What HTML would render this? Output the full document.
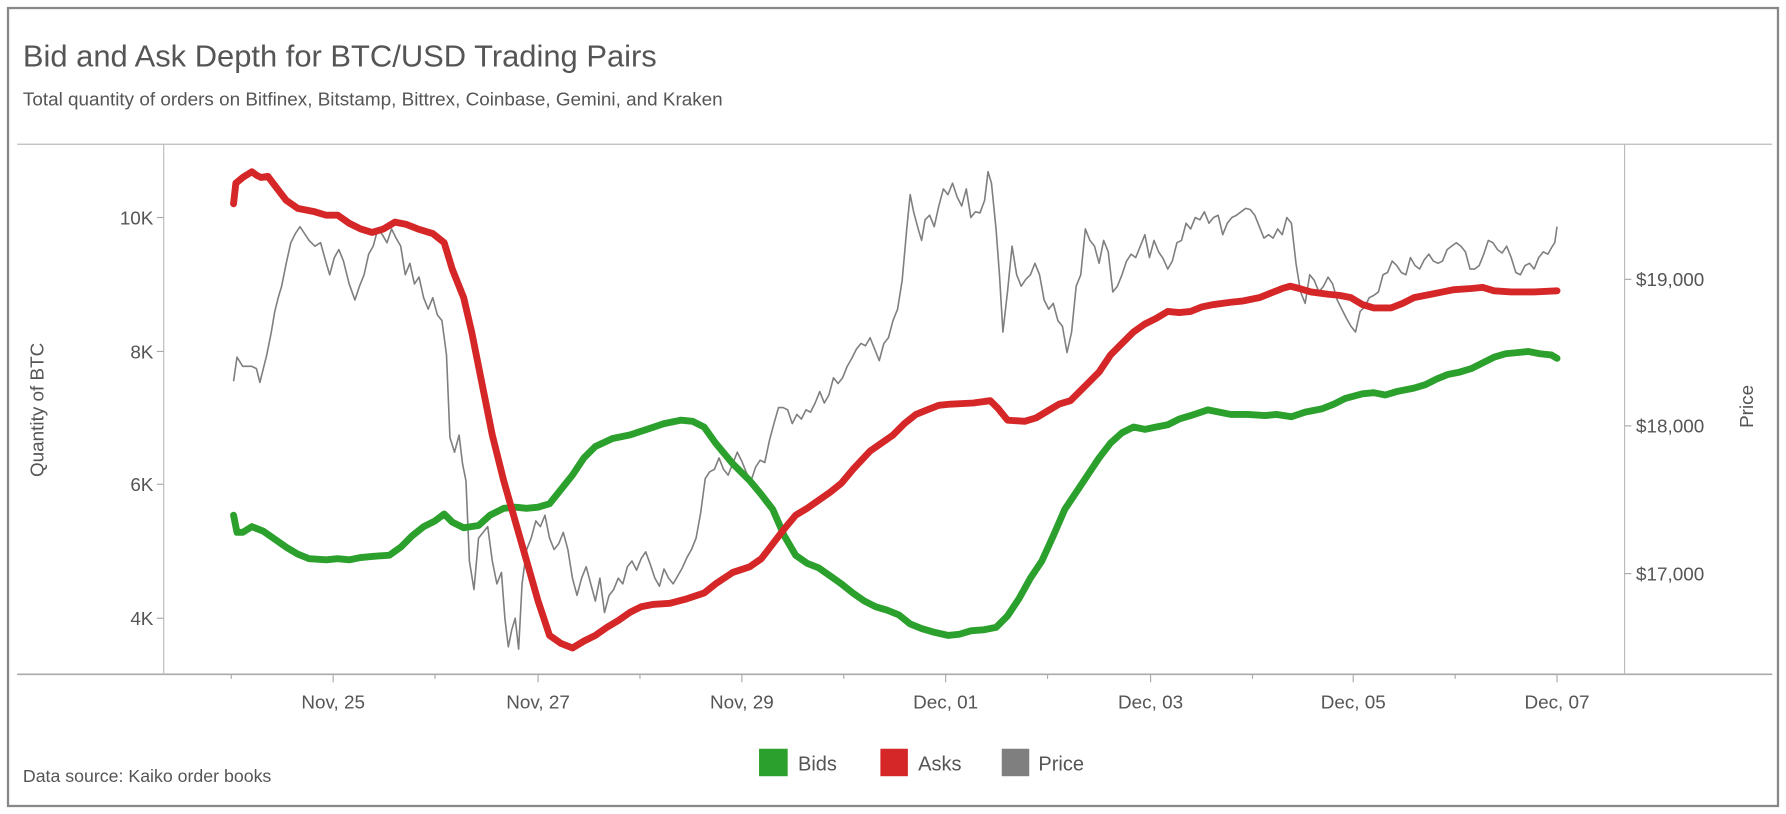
<!DOCTYPE html>
<html><head><meta charset="utf-8"><style>
html,body{margin:0;padding:0;background:#fff;}
svg{display:block;}
text{font-family:"Liberation Sans",sans-serif;fill:#555;}
</style></head><body>
<svg width="1786" height="814" viewBox="0 0 1560 711" preserveAspectRatio="none" xmlns="http://www.w3.org/2000/svg">
<rect x="0" y="0" width="1560" height="711" fill="#fff"/>
<rect x="7" y="7" width="1546" height="697" fill="none" stroke="#888" stroke-width="2"/>
<text x="20" y="58" font-size="27" fill="#555">Bid and Ask Depth for BTC/USD Trading Pairs</text>
<text x="20" y="92" font-size="16.5" fill="#444">Total quantity of orders on Bitfinex, Bitstamp, Bittrex, Coinbase, Gemini, and Kraken</text>
<line x1="15" y1="126" x2="1548" y2="126" stroke="#bbb" stroke-width="1"/>
<line x1="15" y1="589" x2="1548" y2="589" stroke="#aaa" stroke-width="1.5"/>
<line x1="143" y1="126" x2="143" y2="589" stroke="#bbb" stroke-width="1"/>
<line x1="1419" y1="126" x2="1419" y2="589" stroke="#bbb" stroke-width="1"/>
<g stroke="#aaa" stroke-width="1">
<line x1="137" y1="190" x2="143" y2="190"/><line x1="137" y1="307" x2="143" y2="307"/><line x1="137" y1="423" x2="143" y2="423"/><line x1="137" y1="540" x2="143" y2="540"/>
<line x1="1419" y1="244" x2="1425" y2="244"/><line x1="1419" y1="372" x2="1425" y2="372"/><line x1="1419" y1="501" x2="1425" y2="501"/>
<line x1="291" y1="589" x2="291" y2="596"/><line x1="470" y1="589" x2="470" y2="596"/><line x1="648" y1="589" x2="648" y2="596"/><line x1="826" y1="589" x2="826" y2="596"/><line x1="1005" y1="589" x2="1005" y2="596"/><line x1="1182" y1="589" x2="1182" y2="596"/><line x1="1360" y1="589" x2="1360" y2="596"/>
<line x1="202" y1="589" x2="202" y2="593"/><line x1="380" y1="589" x2="380" y2="593"/><line x1="559" y1="589" x2="559" y2="593"/><line x1="737" y1="589" x2="737" y2="593"/><line x1="915" y1="589" x2="915" y2="593"/><line x1="1094" y1="589" x2="1094" y2="593"/><line x1="1271" y1="589" x2="1271" y2="593"/>
</g>
<g font-size="16.5" text-anchor="end">
<text x="134" y="196">10K</text><text x="134" y="313">8K</text><text x="134" y="429">6K</text><text x="134" y="546">4K</text>
</g>
<g font-size="16.5">
<text x="1429" y="250">$19,000</text><text x="1429" y="378">$18,000</text><text x="1429" y="507">$17,000</text>
</g>
<g font-size="16.5" text-anchor="middle">
<text x="291" y="619">Nov, 25</text><text x="470" y="619">Nov, 27</text><text x="648" y="619">Nov, 29</text><text x="826" y="619">Dec, 01</text><text x="1005" y="619">Dec, 03</text><text x="1182" y="619">Dec, 05</text><text x="1360" y="619">Dec, 07</text>
</g>
<text transform="translate(38,358) rotate(-90)" font-size="16.5" text-anchor="middle" fill="#666">Quantity of BTC</text>
<text transform="translate(1531,355) rotate(-90)" font-size="16.5" text-anchor="middle" fill="#666">Price</text>
<polyline fill="none" stroke="#7f7f7f" stroke-width="1.4" stroke-linejoin="round" points="204,333 207,312 212,320 220,320 224,322 227,334 233,310 237,290 240,272 243,260 246,250 250,230 254,212 258,204 262,198 266,204 270,210 275,215 280,212 285,230 288,240 292,225 296,218 300,228 305,248 310,262 314,250 318,240 322,222 326,215 330,200 334,205 338,212 342,200 346,208 350,215 354,240 358,230 362,248 366,242 370,260 374,270 378,260 382,275 386,280 390,310 393,382 397,395 401,380 404,405 407,420 410,490 414,515 418,470 422,465 426,460 430,490 434,510 438,500 441,540 444,565 447,550 450,540 453,567 456,510 460,480 464,470 468,455 472,460 476,450 480,470 484,480 488,475 492,465 496,480 500,505 504,520 508,505 512,495 516,510 520,525 524,505 528,535 532,520 536,515 540,505 544,510 548,495 552,490 556,498 560,488 564,482 568,493 572,505 576,512 580,497 584,505 588,510 592,503 596,496 600,487 604,480 608,470 612,448 616,418 620,412 624,410 628,400 632,410 636,415 640,405 644,395 648,403 652,413 656,420 660,408 664,402 668,404 672,385 676,370 680,356 684,356 688,358 692,370 696,362 700,366 704,358 708,360 712,352 716,342 720,352 724,345 728,330 732,335 736,330 740,320 744,313 748,305 752,300 756,302 760,295 764,305 768,315 772,300 776,295 780,280 784,270 788,245 792,200 795,170 798,185 802,200 805,210 808,192 812,188 816,198 820,180 824,165 828,170 832,160 836,172 840,180 844,165 848,190 852,185 856,186 860,175 863,150 866,160 870,200 873,240 876,290 880,255 884,215 888,240 892,250 896,244 900,240 904,230 908,240 912,262 916,270 920,265 924,280 928,285 932,308 936,290 940,250 944,240 948,200 952,210 956,215 960,230 964,210 968,220 972,255 976,250 980,240 984,228 988,222 992,225 996,215 1000,205 1004,225 1008,210 1012,220 1016,226 1020,235 1024,228 1028,212 1032,210 1036,195 1040,200 1044,190 1048,192 1052,185 1056,195 1060,190 1064,188 1068,205 1072,195 1076,190 1080,188 1084,185 1088,182 1092,183 1096,188 1100,198 1104,208 1108,205 1112,208 1116,200 1120,205 1124,190 1128,195 1132,230 1136,255 1140,265 1144,240 1148,245 1152,255 1156,250 1160,242 1164,248 1168,262 1172,270 1176,278 1180,285 1184,290 1188,272 1192,268 1196,260 1200,258 1204,255 1208,240 1212,238 1216,228 1220,232 1224,238 1228,240 1232,225 1236,232 1240,235 1244,227 1248,222 1252,228 1256,230 1260,228 1264,218 1268,215 1272,212 1276,215 1280,220 1284,235 1288,235 1292,232 1296,222 1300,210 1304,212 1308,218 1312,221 1316,215 1320,225 1324,238 1328,240 1332,232 1336,230 1340,235 1344,225 1348,220 1352,222 1356,215 1358,212 1360,198"/>
<polyline fill="none" stroke="#2ca02c" stroke-width="6" stroke-linejoin="round" stroke-linecap="round" points="204,450 207,465 212,465 220,460 230,464 240,471 250,478 260,484 270,488 285,489 295,488 305,489 315,487 325,486 340,485 350,478 360,468 370,460 380,455 388,449 395,456 405,461 418,459 428,450 440,444 450,443 460,444 470,443 480,440 488,430 500,415 510,400 520,390 535,383 550,380 565,375 580,370 595,367 605,368 615,373 625,387 640,405 655,420 665,432 675,445 685,468 695,485 705,492 715,496 725,503 735,510 745,518 755,525 765,530 775,533 785,537 795,545 805,549 815,552 828,555 838,554 848,551 860,550 870,548 880,538 890,523 900,505 910,490 920,468 930,445 940,430 950,415 960,400 970,387 980,378 990,373 1000,375 1010,373 1020,371 1030,366 1040,363 1055,358 1065,360 1075,362 1090,362 1105,363 1115,362 1128,364 1140,360 1155,357 1165,353 1175,348 1190,344 1200,343 1210,345 1220,342 1235,339 1245,336 1255,331 1265,327 1275,325 1285,322 1295,317 1305,312 1315,309 1325,308 1335,307 1345,309 1355,310 1360,313"/>
<polyline fill="none" stroke="#d62728" stroke-width="6" stroke-linejoin="round" stroke-linecap="round" points="204,178 206,160 212,155 220,150 224,153 228,155 234,154 240,162 250,175 260,182 275,185 285,188 295,188 305,195 315,200 325,203 335,200 345,194 355,196 365,200 378,204 388,212 395,235 405,260 412,290 420,330 430,380 440,420 450,455 460,490 470,525 480,555 490,562 500,566 510,560 520,555 530,548 540,542 550,535 560,530 570,528 585,527 600,523 615,518 625,510 640,500 655,495 665,488 675,475 685,462 695,450 705,444 715,437 725,430 735,422 745,410 760,394 770,387 780,380 790,370 800,362 810,358 820,354 830,353 850,352 865,350 872,357 880,367 895,368 905,365 915,359 925,353 935,350 950,335 960,325 970,310 980,300 990,290 1000,283 1010,278 1020,272 1030,273 1040,272 1050,268 1060,266 1075,264 1085,263 1100,260 1110,256 1120,252 1127,250 1135,252 1145,255 1160,257 1170,258 1180,260 1190,266 1200,269 1215,269 1225,265 1235,260 1250,257 1260,255 1270,253 1285,252 1295,251 1305,254 1320,255 1340,255 1360,254"/>
<rect x="663" y="654" width="25" height="24" fill="#2ca02c"/>
<text x="697" y="673" font-size="17.5">Bids</text>
<rect x="769" y="654" width="24" height="24" fill="#d62728"/>
<text x="802" y="673" font-size="17.5">Asks</text>
<rect x="875" y="654" width="24" height="24" fill="#7f7f7f"/>
<text x="907" y="673" font-size="17.5">Price</text>
<text x="20" y="683" font-size="15.5" fill="#444">Data source: Kaiko order books</text>
</svg>
</body></html>
